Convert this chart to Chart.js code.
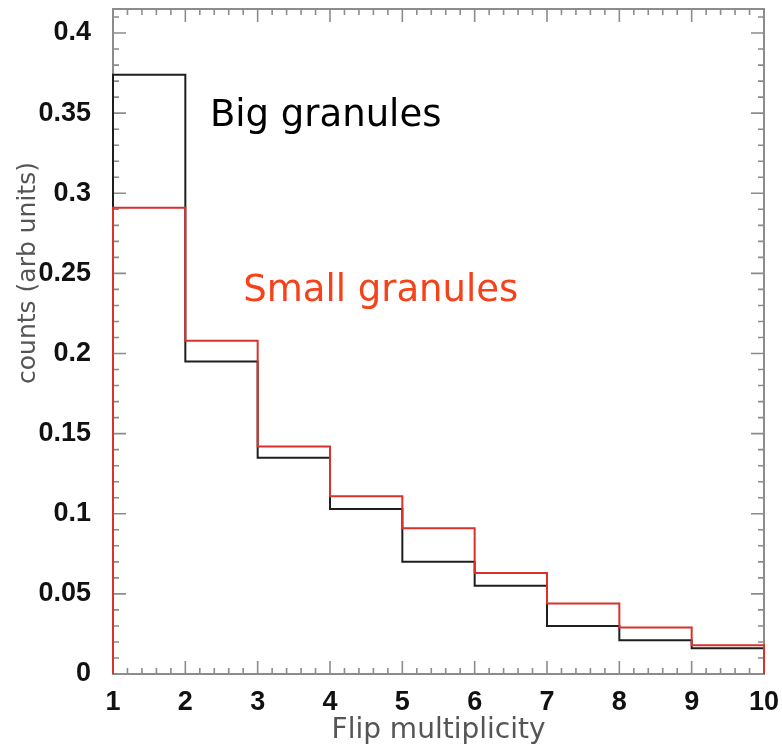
<!DOCTYPE html>
<html>
<head>
<meta charset="utf-8">
<script src="https://cdn.jsdelivr.net/npm/chart.js@4.4.1/dist/chart.umd.min.js"></script>
<style>
  html, body { margin: 0; padding: 0; background: #fff; }
  #wrap { width: 782px; height: 748px; position: relative; }
</style>
</head>
<body>
<div id="wrap"><canvas id="chart"></canvas></div>
<script>
// bin edges along the flip multiplicity axis, one count per bin
const binEdges = [1, 2, 3, 4, 5, 6, 7, 8, 9, 10];
const bigCounts = [0.374, 0.195, 0.135, 0.103, 0.070, 0.055, 0.030, 0.021, 0.016];
const smallCounts = [0.291, 0.208, 0.142, 0.111, 0.091, 0.063, 0.044, 0.029, 0.018];
const yTicks = [0, 0.05, 0.1, 0.15, 0.2, 0.25, 0.3, 0.35, 0.4];

const BLACK = '#1e1e1e';
const RED = '#d8322a';
const TEXT_RED = '#f5421a';
const FRAME = '#8c8c8c';

// step outline: up at the first edge, across each bin, down at the last edge
function stepPoints(counts) {
  const pts = [{ x: binEdges[0], y: 0 }];
  counts.forEach((c, i) => pts.push({ x: binEdges[i], y: c }));
  const last = binEdges[binEdges.length - 1];
  pts.push({ x: last, y: counts[counts.length - 1] });
  pts.push({ x: last, y: 0 });
  return pts;
}

const framePlugin = {
  id: 'frame',
  beforeDatasetsDraw(chart) {
    const { ctx, chartArea: a, scales: { x, y } } = chart;
    ctx.save();
    ctx.strokeStyle = FRAME;
    ctx.lineWidth = 2;
    ctx.strokeRect(a.left, a.top, a.right - a.left, a.bottom - a.top);
    ctx.lineWidth = 1.6;
    ctx.beginPath();
    for (let i = 0; i <= 45; i++) {
      const px = x.getPixelForValue(1 + i * 0.2);
      const len = i % 5 === 0 ? 13 : 6;
      ctx.moveTo(px, a.bottom); ctx.lineTo(px, a.bottom - len);
      ctx.moveTo(px, a.top); ctx.lineTo(px, a.top + len);
    }
    for (let i = 0; i <= 41; i++) {
      const py = y.getPixelForValue(i * 0.01);
      const len = i % 5 === 0 ? 13 : 6;
      ctx.moveTo(a.left, py); ctx.lineTo(a.left + len, py);
      ctx.moveTo(a.right, py); ctx.lineTo(a.right - len, py);
    }
    ctx.stroke();
    ctx.restore();
  },
  afterDraw(chart) {
    const { ctx, scales: { x, y } } = chart;
    ctx.save();
    ctx.font = '37px "DejaVu Sans"';
    ctx.textBaseline = 'middle';
    ctx.textAlign = 'left';
    ctx.fillStyle = '#000';
    ctx.fillText('Big granules', x.getPixelForValue(2.34), y.getPixelForValue(0.348));
    ctx.fillStyle = TEXT_RED;
    ctx.fillText('Small granules', x.getPixelForValue(2.80), y.getPixelForValue(0.239));

    ctx.translate(28, 273);
    ctx.rotate(-Math.PI / 2);
    ctx.textAlign = 'center';
    ctx.fillStyle = '#555';
    ctx.font = '25px "DejaVu Sans"';
    ctx.fillText('counts (arb units)', 0, 0);
    ctx.restore();
  }
};

const chart = new Chart(document.getElementById('chart'), {
  type: 'scatter',
  data: {
    datasets: [
      {
        label: 'Small granules',
        data: stepPoints(smallCounts),
        showLine: true,
        stepped: true,
        borderColor: RED,
        borderWidth: 2,
        pointRadius: 0,
        clip: 6
      },
      {
        label: 'Big granules',
        data: stepPoints(bigCounts),
        showLine: true,
        stepped: true,
        borderColor: BLACK,
        borderWidth: 2,
        pointRadius: 0,
        clip: 6
      }
    ]
  },
  options: {
    responsive: true,
    maintainAspectRatio: false,
    animation: false,
    layout: { padding: { left: 0, right: 18, top: 9, bottom: 0 } },
    plugins: { legend: { display: false }, tooltip: { enabled: false } },
    scales: {
      x: {
        type: 'linear',
        min: binEdges[0],
        max: binEdges[binEdges.length - 1],
        grid: { display: false },
        border: { display: false },
        afterBuildTicks: (scale) => { scale.ticks = binEdges.map((v) => ({ value: v })); },
        afterFit: (scale) => {
          scale.height = 74;
          scale.paddingLeft = 0;
          scale.paddingRight = 0;
        },
        ticks: {
          padding: 4,
          color: '#111',
          maxRotation: 0,
          autoSkip: false,
          font: { family: '"Liberation Sans", Arial, sans-serif', weight: 'bold', size: 27 }
        },
        title: {
          display: true,
          text: 'Flip multiplicity',
          color: '#555',
          padding: { top: -4, bottom: 0 },
          font: { family: '"DejaVu Sans"', size: 28 }
        }
      },
      y: {
        type: 'linear',
        min: 0,
        max: 0.415,
        grid: { display: false },
        border: { display: false },
        afterBuildTicks: (scale) => { scale.ticks = yTicks.map((v) => ({ value: v })); },
        afterFit: (scale) => {
          scale.width = 113;
          scale.paddingTop = 0;
          scale.paddingBottom = 0;
        },
        ticks: {
          padding: 14,
          color: '#111',
          autoSkip: false,
          callback: (v) => String(v),
          font: { family: '"Liberation Sans", Arial, sans-serif', weight: 'bold', size: 27 }
        }
      }
    }
  },
  plugins: [framePlugin]
});
</script>
</body>
</html>
